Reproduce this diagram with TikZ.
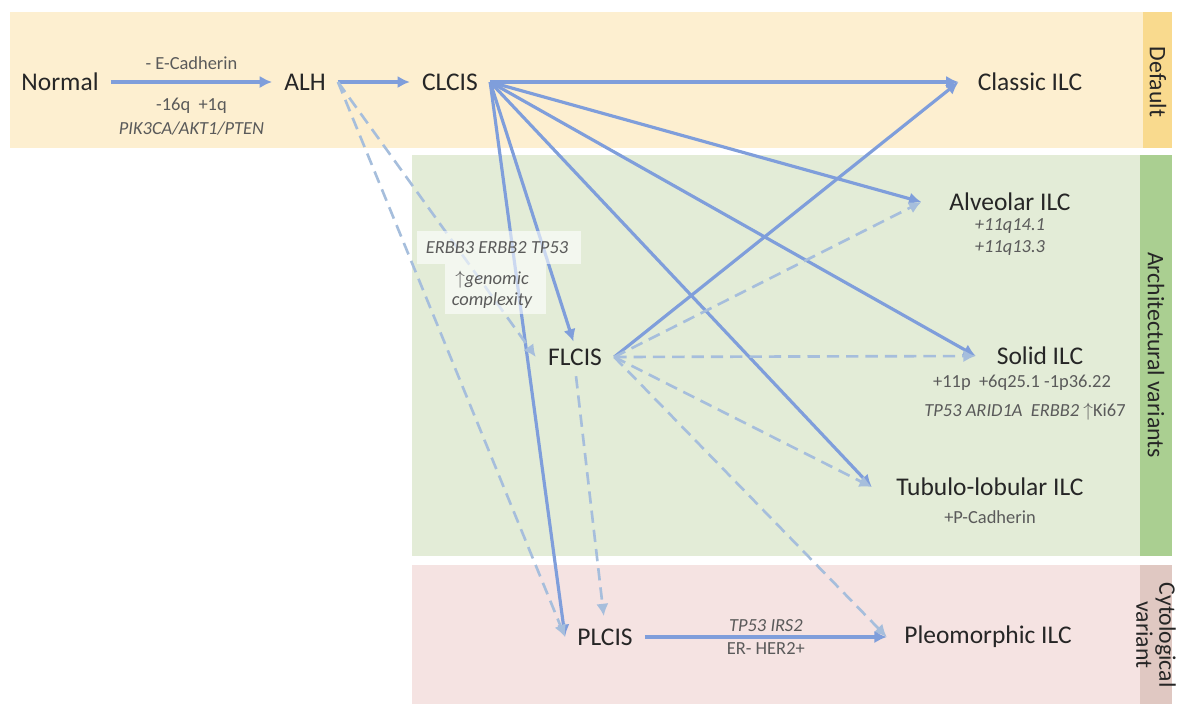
\documentclass[tikz,border=0pt]{standalone}
\usepackage{fontspec}
\setmainfont{Carlito}
\usetikzlibrary{arrows.meta, positioning}

\definecolor{bandY}{HTML}{FDEFD0}
\definecolor{stripY}{HTML}{F9DA8E}
\definecolor{bandG}{HTML}{E3ECD7}
\definecolor{stripG}{HTML}{AACF91}
\definecolor{bandP}{HTML}{F5E3E2}
\definecolor{stripP}{HTML}{E0C8C2}
\definecolor{arrowB}{HTML}{7F9EDB}
\definecolor{dashB}{HTML}{A6BEDC}
\definecolor{txtG}{HTML}{5A5A5A}

\begin{document}
\begin{tikzpicture}[
  x=0.02cm, y=-0.02cm,
  stage/.style={font=\fontsize{14.5}{17}\selectfont, text=black!85,
                inner sep=1pt, outer xsep=6pt},
  tgt/.style={stage, outer xsep=11pt},
  note/.style={font=\fontsize{10.5}{12}\selectfont, text=txtG, inner sep=1pt},
  gene/.style={note, font=\fontsize{10.5}{12}\selectfont\itshape},
  side/.style={font=\fontsize{13.5}{14}\selectfont, text=black!85,
               rotate=-90, align=center, inner sep=0pt},
  prog/.style={-{Latex[length=7pt,width=7pt]}, arrowB, line width=1.8pt},
  alt/.style={-{Latex[length=7pt,width=7pt]}, dashB, line width=1.5pt,
              dash pattern=on 7pt off 4pt}
]
  \useasboundingbox (0,0) rectangle (1179,704);
  \def\xN{60}  \def\xA{305} \def\xC{450} \def\xF{575} \def\xP{605}
  \def\yT{82}  \def\yF{357} \def\yP{637}

  %--- bands ---
  \fill[bandY]  (10,12)    rectangle (1172,148);
  \fill[stripY] (1143,12)  rectangle (1172,148);
  \fill[bandG]  (412,155)  rectangle (1172,556);
  \fill[stripG] (1140,155) rectangle (1172,556);
  \fill[bandP]  (412,565)  rectangle (1172,704);
  \fill[stripP] (1140,565) rectangle (1172,704);

  \node[side] (sDef)  at (1158,82)  {Default};
  \node[side] (sArch) at (1156,355) {Architectural variants};
  \node[side, font=\fontsize{13.5}{13}\selectfont] (sCyto) at (1156,635)
    {Cytological\\variant};

  %--- stages ---
  \node[stage] (normal) at (\xN,\yT) {Normal};
  \node[stage] (alh)    at (\xA,\yT) {ALH};
  \node[stage] (clcis)  at (\xC,\yT) {CLCIS};
  \node[stage] (flcis)  at (\xF,\yF) {FLCIS};
  \node[stage] (plcis)  at (\xP,\yP) {PLCIS};

  \node[tgt, outer xsep=10pt] (classic) at (1030,\yT)  {Classic ILC};
  \node[tgt, outer xsep=15pt] (alv)     at (1010,202)  {Alveolar ILC};
  \node[tgt]                  (solid)   at (1040,356)  {Solid ILC};
  \node[tgt, outer xsep=13pt] (tubulo)  at (990,487)   {Tubulo-lobular ILC};
  \node[tgt, outer xsep=9pt]  (pleo)    at (988,\yP)   {Pleomorphic ILC};

  %--- notes under the ILC types ---
  \node[gene] (alvA) at (1010,226) {+11q14.1};
  \node[gene] (alvB) at (1010,248) {+11q13.3};
  \node[note] (solA) at (1022,383) {+11p\ \ +6q25.1 -1p36.22};
  \node[note] (solB) at (1025,412)
    {\textit{TP53 ARID1A\ \ ERBB2} $\uparrow$Ki67};
  \node[note] (tubA) at (990,517) {+P-Cadherin};

  %--- main line ---
  \draw[prog] (normal) -- (alh)
    node[midway, above=5pt, note] (ecad) {- E-Cadherin}
    node[midway, below=7pt, note] (chr1) {-16q\ \ +1q};
  \node[gene, below=2pt of chr1] (pik) {PIK3CA/AKT1/PTEN};
  \draw[prog] (alh) -- (clcis);

  %--- from CLCIS ---
  \draw[prog] (clcis.east) -- (classic.west);
  \draw[prog] (clcis.east) -- (alv.west);
  \draw[prog] (clcis.east) -- (solid.west);
  \draw[prog] (clcis.east) -- (tubulo.west);
  \draw[prog, shorten >=3pt] (clcis.east) -- (flcis.north);
  \draw[prog] (clcis.east) -- (plcis.west);

  %--- from ALH (dashed) ---
  \draw[alt] (alh.east) -- (flcis.west);
  \draw[alt] (alh.east) -- (plcis.west);

  %--- from FLCIS ---
  \draw[prog] (flcis.east) -- (classic.west);
  \draw[alt] (flcis.east) -- (alv.west);
  \draw[alt] (flcis.east) -- (solid.west);
  \draw[alt] (flcis.east) -- (tubulo.west);
  \draw[alt] (flcis.east) -- (pleo.west);
  \draw[alt, shorten <=5pt, shorten >=6pt] (flcis.south) -- (plcis.north);

  %--- PLCIS to pleomorphic ---
  \draw[prog] (plcis) -- (pleo)
    node[midway, above=1pt, gene] (tpIrs) {TP53 IRS2}
    node[midway, below=1pt, note] (erHer) {ER- HER2+};

  %--- FLCIS note box ---
  \fill[white, fill opacity=0.6] (417,231) rectangle (581,264);
  \fill[white, fill opacity=0.6] (445,264) rectangle (546,314);
  \node[gene] (flA) at (497,248) {ERBB3 ERBB2 TP53};
  \node[gene, align=center] (flB) at (492,290)
    {$\uparrow$genomic\\complexity};
\end{tikzpicture}
\end{document}
